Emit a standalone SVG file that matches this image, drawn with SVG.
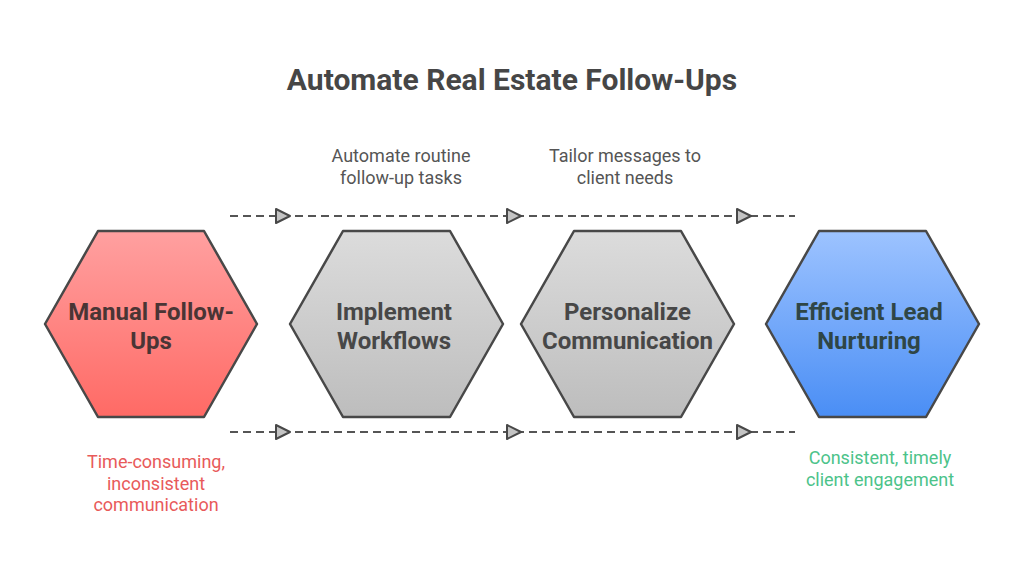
<svg xmlns="http://www.w3.org/2000/svg" xmlns:xlink="http://www.w3.org/1999/xlink" width="1024" height="577" viewBox="0 0 1024 577">
<style>
.hex{stroke:#484848;stroke-width:2.5;stroke-linejoin:round}
.lbl{font-family:Roboto,"Liberation Sans",sans-serif;font-weight:bold;font-size:24px;text-anchor:middle}
.sub{font-family:Roboto,"Liberation Sans",sans-serif;font-size:18px;text-anchor:middle;fill:#555}
.title{font-family:Roboto,"Liberation Sans",sans-serif;font-weight:bold;font-size:30px;text-anchor:middle;fill:#464646}
.dash{fill:none;stroke:#555;stroke-width:2;stroke-dasharray:8,5}
.tri{fill:#c4c4c4;stroke:#484848;stroke-width:2;stroke-linejoin:round}
.red{fill:#e85a5a}
.grn{fill:#4cc38a}
</style>
<defs>
<linearGradient id="gr" x1="0" y1="0" x2="0" y2="1"><stop offset="0" stop-color="#ffa0a0"/><stop offset="1" stop-color="#ff6a65"/></linearGradient>
<linearGradient id="gg" x1="0" y1="0" x2="0" y2="1"><stop offset="0" stop-color="#dcdcdc"/><stop offset="1" stop-color="#bdbdbd"/></linearGradient>
<linearGradient id="gb" x1="0" y1="0" x2="0" y2="1"><stop offset="0" stop-color="#9dc3ff"/><stop offset="1" stop-color="#4a8ef5"/></linearGradient>
<polygon id="arw" class="tri" points="0,-7 14,0 0,7"/>
</defs>
<rect width="1024" height="577" fill="#ffffff"/>
<text class="title" x="512" y="90">Automate Real Estate Follow-Ups</text>
<g id="connectors">
<path class="dash" d="M230 216 H795"/>
<path class="dash" d="M230 432 H795"/>
<use xlink:href="#arw" x="276" y="216"/>
<use xlink:href="#arw" x="507" y="216"/>
<use xlink:href="#arw" x="737" y="216"/>
<use xlink:href="#arw" x="276" y="432"/>
<use xlink:href="#arw" x="507" y="432"/>
<use xlink:href="#arw" x="737" y="432"/>
</g>
<g id="node-manual">
<polygon class="hex" fill="url(#gr)" points="45,324 98,231 204,231 257,324 204,417 98,417"/>
<text class="lbl" fill="#4a3535" x="151" y="320">Manual Follow-</text>
<text class="lbl" fill="#4a3535" x="151" y="349">Ups</text>
</g>
<g id="node-implement">
<polygon class="hex" fill="url(#gg)" points="290,324 343,231 450,231 503,324 450,417 343,417"/>
<text class="lbl" fill="#474747" x="394" y="320">Implement</text>
<text class="lbl" fill="#474747" x="394" y="349">Workflows</text>
</g>
<g id="node-personalize">
<polygon class="hex" fill="url(#gg)" points="521,324 574,231 681,231 734,324 681,417 574,417"/>
<text class="lbl" fill="#474747" x="627.5" y="320">Personalize</text>
<text class="lbl" fill="#474747" x="627.5" y="349">Communication</text>
</g>
<g id="node-efficient">
<polygon class="hex" fill="url(#gb)" points="766,324 819,231 926,231 979,324 926,417 819,417"/>
<text class="lbl" fill="#2f4646" x="869" y="320">Efficient Lead</text>
<text class="lbl" fill="#2f4646" x="869" y="349">Nurturing</text>
</g>
<g id="labels">
<text class="sub" x="401" y="162">Automate routine</text>
<text class="sub" x="401" y="184">follow-up tasks</text>
<text class="sub" x="625" y="162">Tailor messages to</text>
<text class="sub" x="625" y="184">client needs</text>
<text class="sub red" x="156" y="468">Time-consuming,</text>
<text class="sub red" x="156" y="490">inconsistent</text>
<text class="sub red" x="156" y="511">communication</text>
<text class="sub grn" x="880" y="464">Consistent, timely</text>
<text class="sub grn" x="880" y="486">client engagement</text>
</g>
</svg>
